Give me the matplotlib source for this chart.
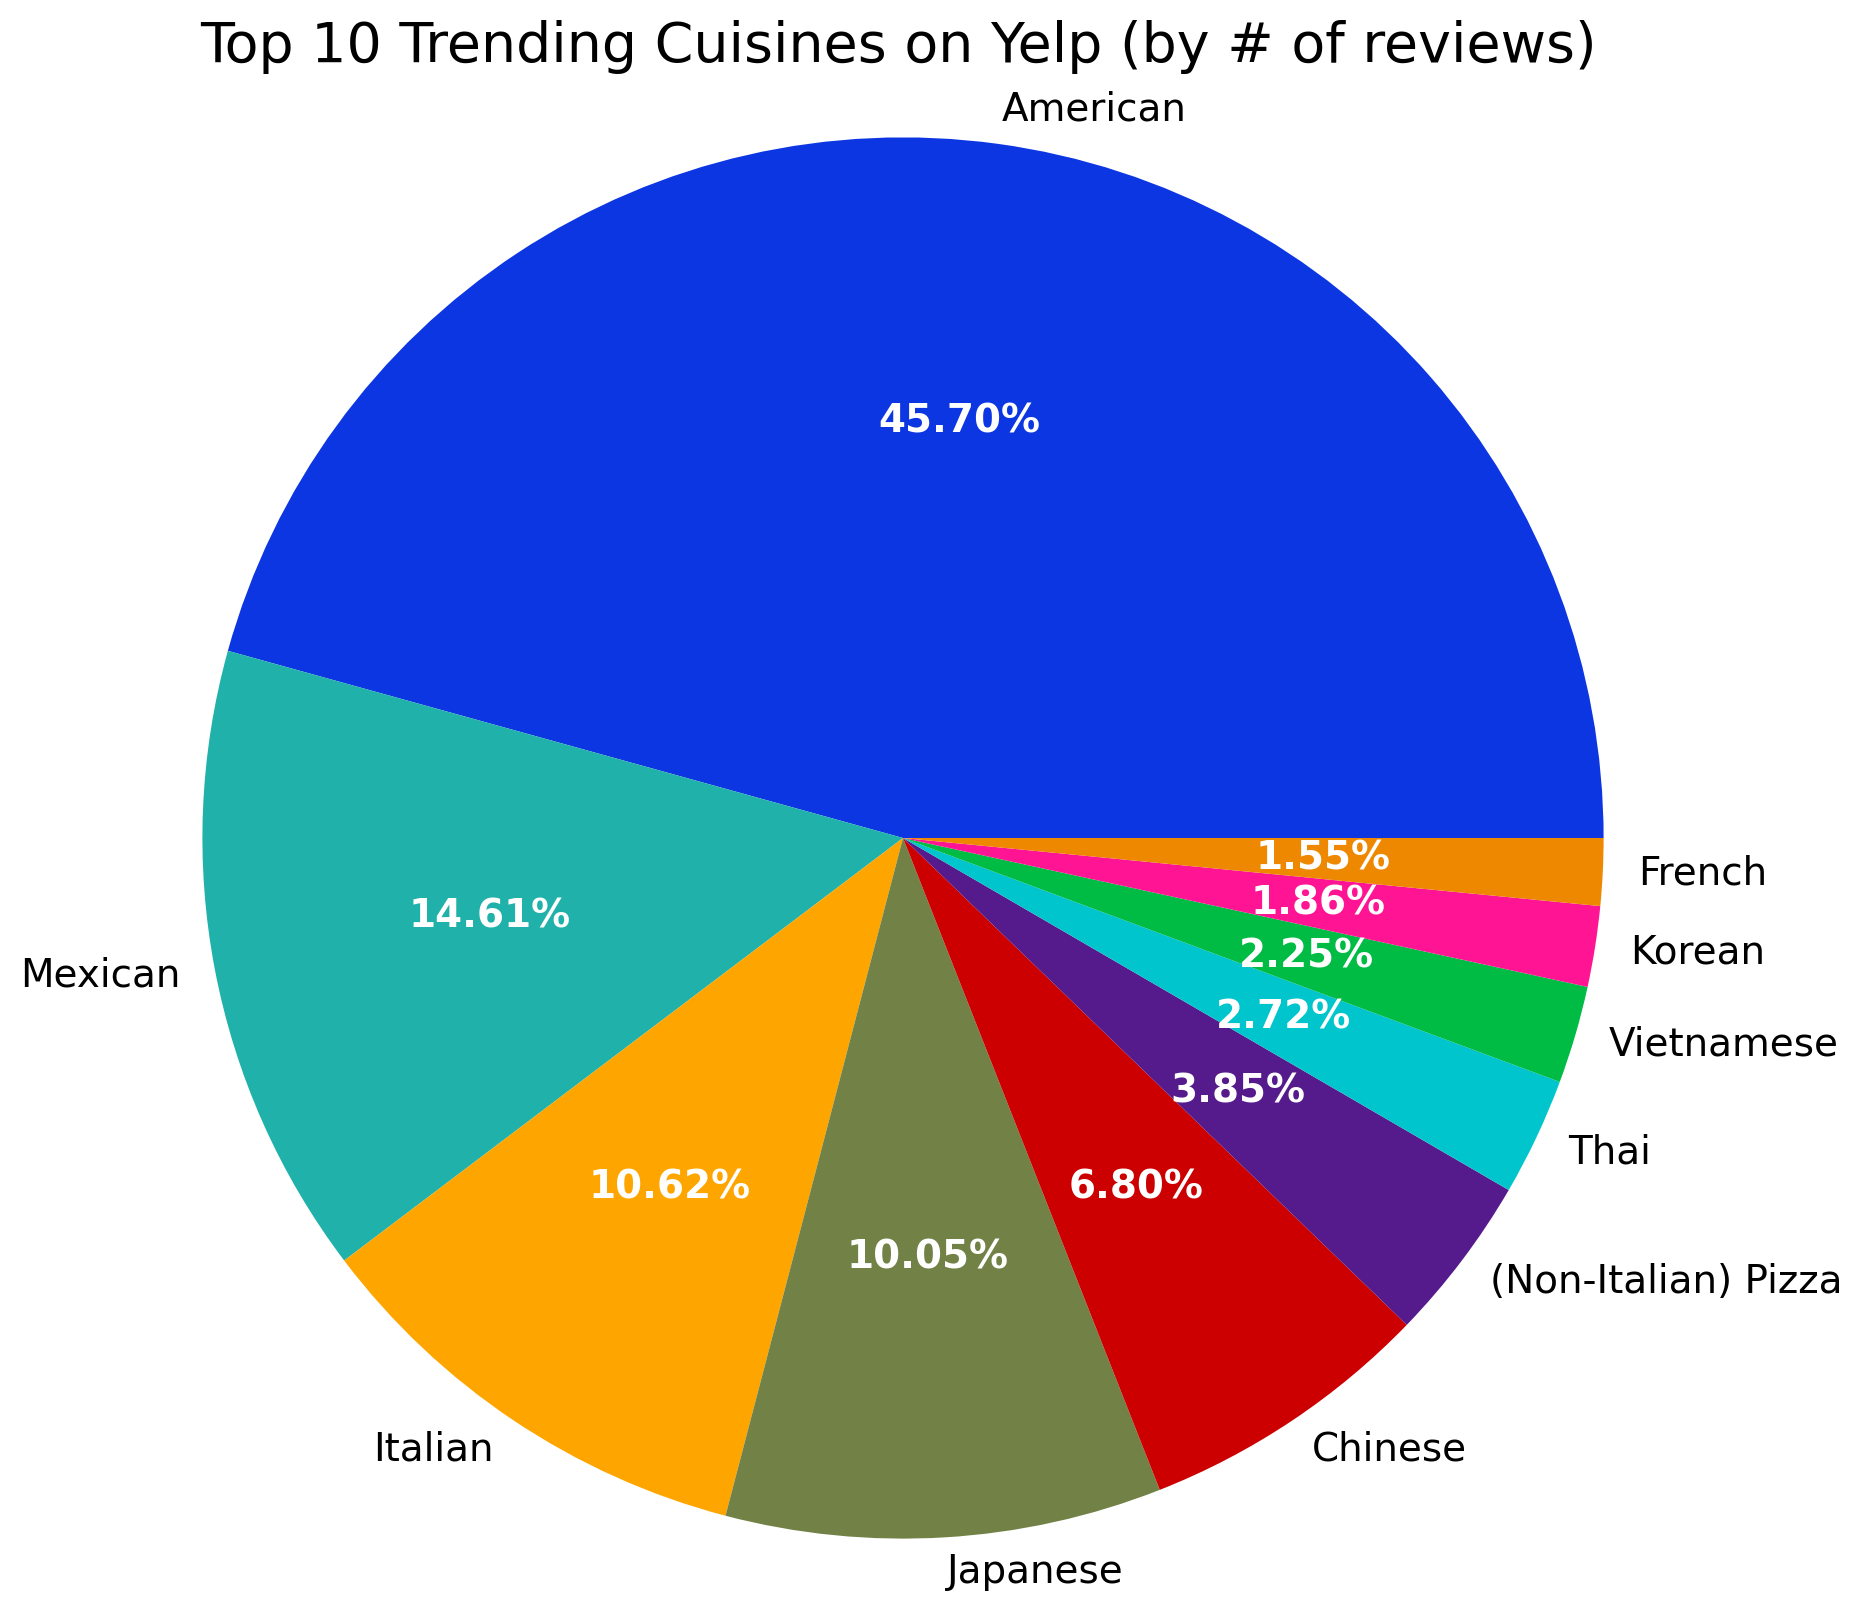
import matplotlib
matplotlib.use('Agg')
import matplotlib.pyplot as plt

cuisines = ['American', 'Mexican', 'Italian', 'Japanese', 'Chinese',
            '(Non-Italian) Pizza', 'Thai', 'Vietnamese', 'Korean', 'French']
shares = [45.70, 14.61, 10.62, 10.05, 6.80, 3.85, 2.72, 2.25, 1.86, 1.55]
colors = ['#0d36e3', '#20b2aa', '#ffa500', '#728246', '#cc0000',
          '#551a8b', '#00c5cd', '#00bb44', '#ff1493', '#ee8800']

W, H = 1862, 1613
fig = plt.figure(figsize=(W / 200, H / 200), dpi=200)

# pie radius ~700 px, centre at (903, 838) from top-left
r_px = 700.6
side = 2.5 * r_px
cx, cy = 903, H - 838
ax = fig.add_axes([(cx - side / 2) / W, (cy - side / 2) / H, side / W, side / H])

wedges, texts, autotexts = ax.pie(shares, labels=cuisines, colors=colors,
                                  autopct='%.2f%%', labeldistance=1.05,
                                  pctdistance=0.6,
                                  textprops={'fontsize': 14})
for t in autotexts:
    t.set_color('white')
    t.set_fontweight('bold')
ax.set_aspect('equal')

fig.text(0.5 - 33 / W, 1 - 47 / H, 'Top 10 Trending Cuisines on Yelp (by # of reviews)',
         ha='center', va='center', fontsize=20)

fig.savefig('out.png', dpi=200)
